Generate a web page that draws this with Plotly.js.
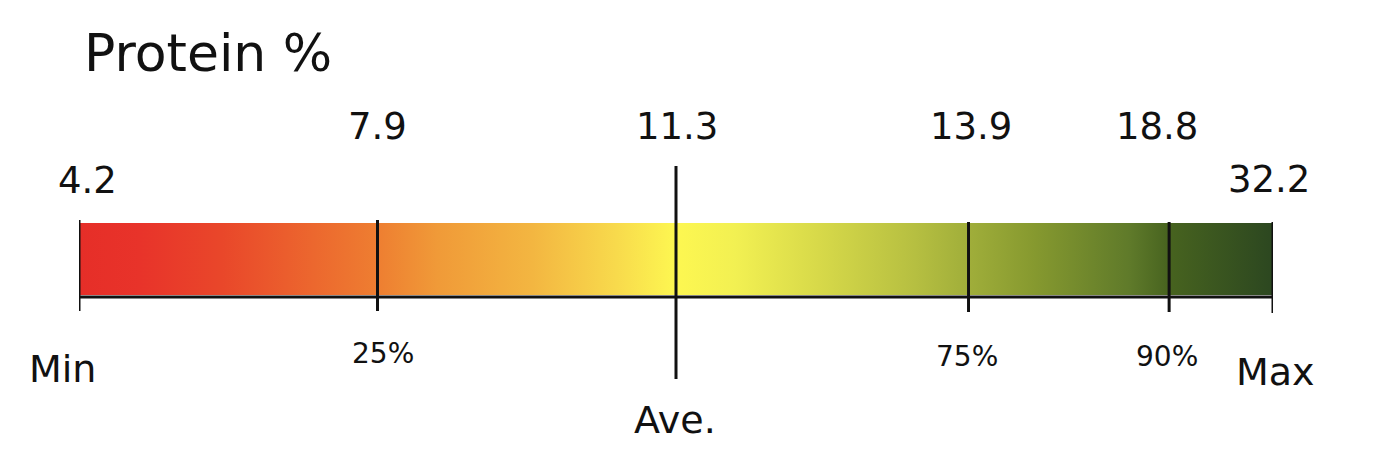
<!DOCTYPE html>
<html>
<head>
<meta charset="utf-8">
<script src="https://cdn.plot.ly/plotly-3.0.1.min.js"></script>
<style>html,body{margin:0;padding:0;background:#fff;}#chart{width:1380px;height:452px;}</style>
</head>
<body>
<div id="chart"></div>
<script>
// ---- data ----
const markLabels = ['Min', '25%', 'Ave.', '75%', '90%', 'Max'];
const markValues = [4.2, 7.9, 11.3, 13.9, 18.8, 32.2];
const markPositions = [0, 25, 50, 74.5, 91.3, 100]; // position along the bar, % of its length
const chartTitle = 'Protein %';

// ---- styles ----
const gradientStops = [
  [0.00, '#e62e28'], [0.05, '#e8332a'], [0.12, '#e9472a'], [0.25, '#ee7e31'],
  [0.30, '#f09a38'], [0.38, '#f3b641'], [0.45, '#f8da4c'], [0.50, '#fdf751'],
  [0.55, '#f2f052'], [0.62, '#d7d949'], [0.70, '#b6bf41'], [0.745, '#a0ae3a'],
  [0.80, '#86992f'], [0.88, '#5f7a2a'], [0.913, '#47631f'], [1.00, '#2c4720']
];
const barTop = 223, barBottom = 295, baseY = 297;
const lineTop    = [220, 220, 166, 222, 222, 222];
const lineBottom = [311, 311, 379, 312, 312, 313];
const valueY     = [180, 126, 126, 126, 126, 179];
const valueShift = [8, 0, 1, 2, -12, -4];
const labelY     = [369, 353, 420, 356, 356, 372];
const labelShift = [-17, 5, -1, -2, -2, 2];
const labelSize  = [38, 28, 38, 28, 28, 38];
const FONT = 'DejaVu Sans';
const INK = '#111111';

const x0 = markPositions[0], x1 = markPositions[markPositions.length - 1];

const barTrace = {
  type: 'scatter', mode: 'none',
  x: [x0, x1, x1, x0, x0],
  y: [barTop, barTop, barBottom, barBottom, barTop],
  fill: 'toself',
  fillgradient: { type: 'horizontal', colorscale: gradientStops },
  hoverinfo: 'skip', showlegend: false
};

const shapes = markPositions.map((p, i) => ({
  type: 'line', xref: 'x', yref: 'y', x0: p, x1: p, y0: lineTop[i], y1: lineBottom[i],
  line: { color: INK, width: 3 }
}));
shapes.push({
  type: 'line', xref: 'x', yref: 'y', x0: x0, x1: x1, y0: baseY, y1: baseY,
  line: { color: INK, width: 3 }
});

const annotations = [];
markPositions.forEach((p, i) => {
  annotations.push({
    x: p, y: valueY[i], xref: 'x', yref: 'y', xshift: valueShift[i],
    text: String(markValues[i]), showarrow: false, xanchor: 'center', yanchor: 'middle',
    font: { family: FONT, size: 37, color: INK }
  });
  annotations.push({
    x: p, y: labelY[i], xref: 'x', yref: 'y', xshift: labelShift[i],
    text: markLabels[i], showarrow: false, xanchor: 'center', yanchor: 'middle',
    font: { family: FONT, size: labelSize[i], color: INK }
  });
});

const layout = {
  width: 1380, height: 452,
  margin: { l: 79, r: 107, t: 0, b: 0, pad: 0 },
  paper_bgcolor: '#ffffff', plot_bgcolor: '#ffffff',
  title: {
    text: chartTitle, xref: 'container', yref: 'container',
    x: 84 / 1380, xanchor: 'left', y: 1 - 53 / 452, yanchor: 'middle',
    font: { family: FONT, size: 52, color: INK }
  },
  xaxis: { range: [0, 100], visible: false, fixedrange: true },
  yaxis: { range: [452, 0], visible: false, fixedrange: true },
  shapes: shapes,
  annotations: annotations,
  showlegend: false
};

Plotly.newPlot('chart', [barTrace], layout, { staticPlot: true, displayModeBar: false });
</script>
</body>
</html>
